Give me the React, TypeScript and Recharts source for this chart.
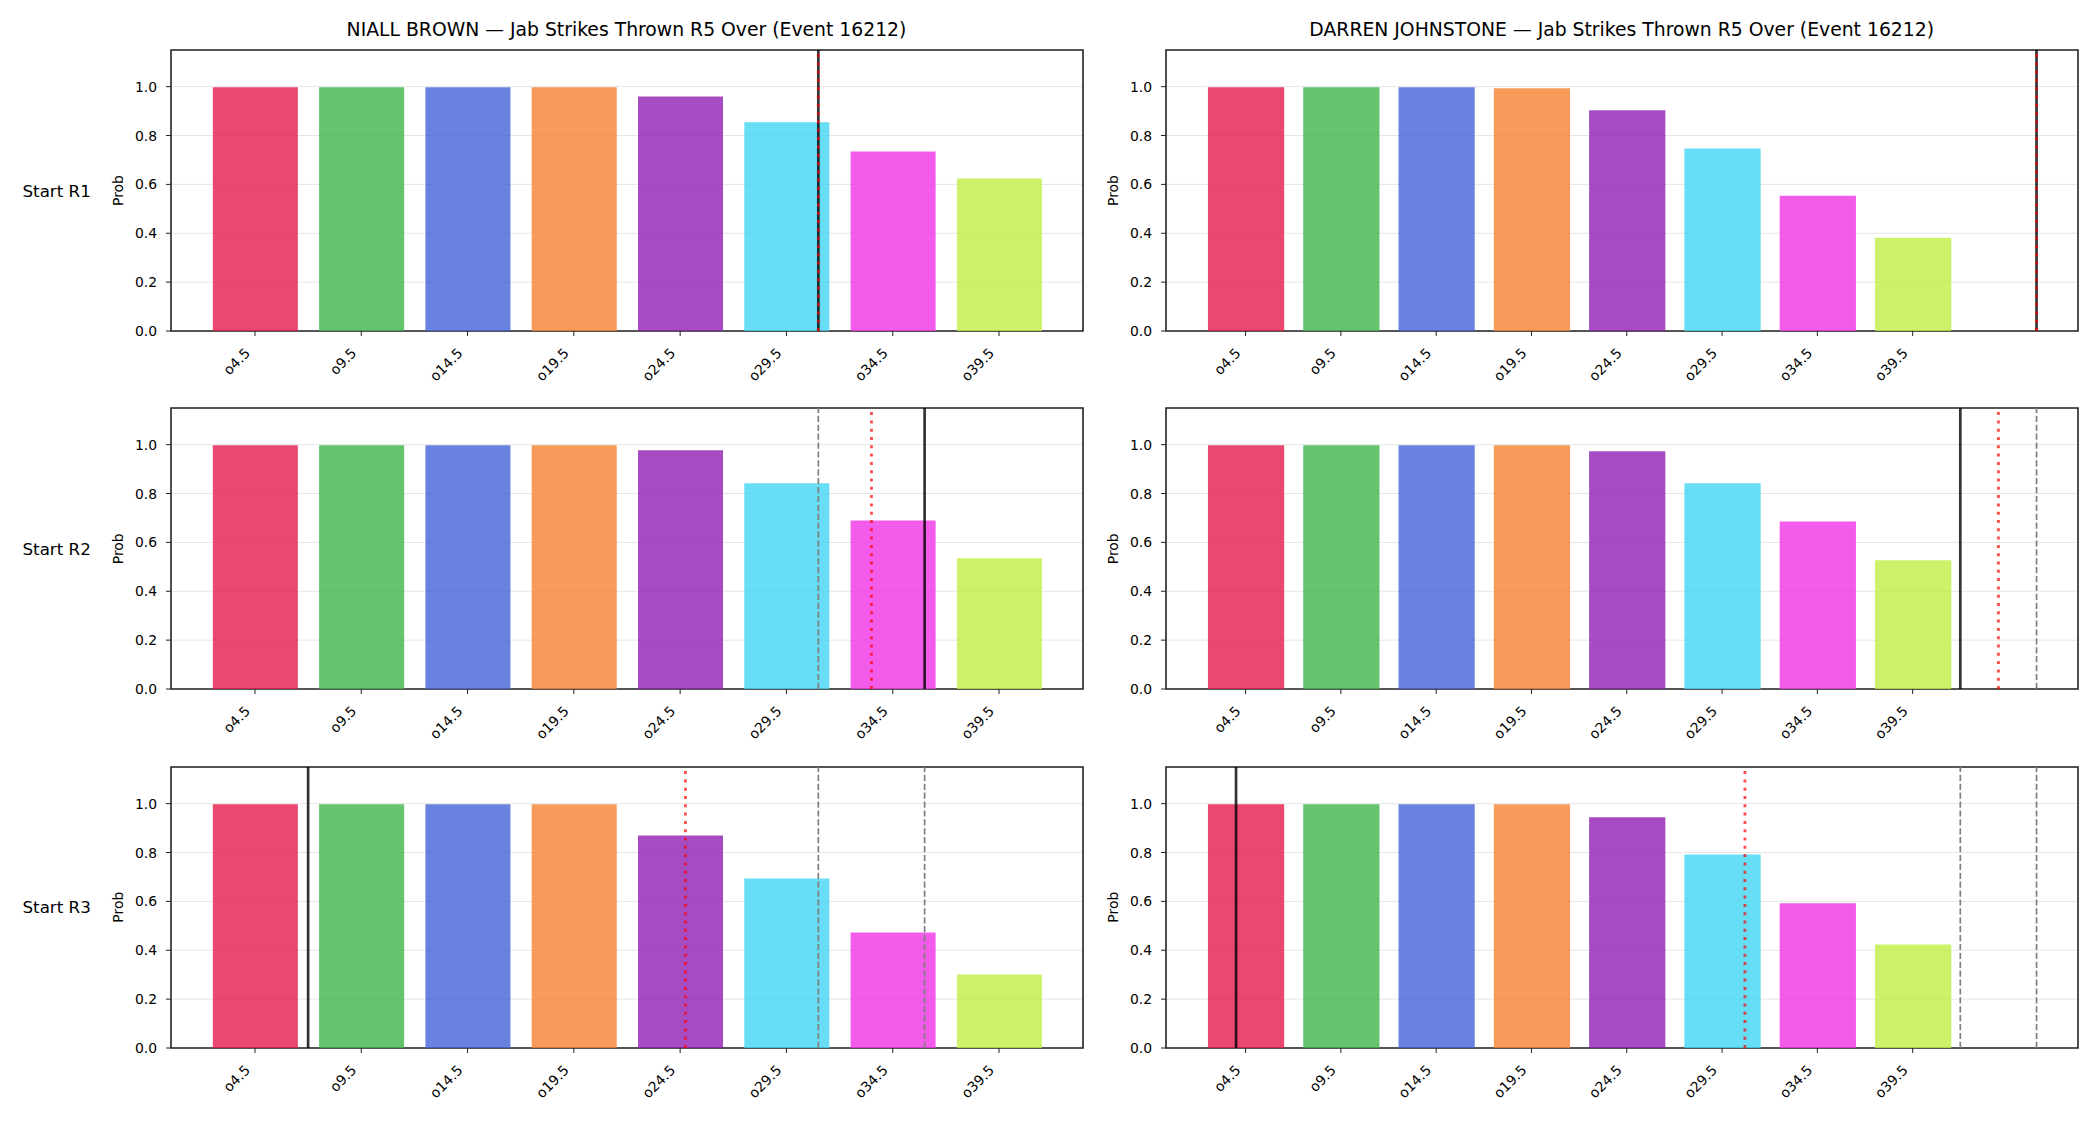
import React from 'react';
import {
  BarChart,
  Bar,
  XAxis,
  YAxis,
  CartesianGrid,
  ReferenceLine,
  ReferenceArea,
  Cell,
} from 'recharts';

// Over lines (categories) and the strike count each one stands for
const categories = ['o4.5', 'o9.5', 'o14.5', 'o19.5', 'o24.5', 'o29.5', 'o34.5', 'o39.5'];
const thresholds = [4.5, 9.5, 14.5, 19.5, 24.5, 29.5, 34.5, 39.5];
const barColors = ['#e6194b', '#3cb44b', '#4363d8', '#f58231', '#911eb4', '#42d4f4', '#f032e6', '#bfef45'];

const rounds = ['Start R1', 'Start R2', 'Start R3'];
const fighters = ['NIALL BROWN', 'DARREN JOHNSTONE'];
const market = 'Jab Strikes Thrown R5 Over';
const eventId = 16212;

// Over probabilities, one array per fighter per starting round
const brownR1 = [0.998, 0.998, 0.998, 0.998, 0.96, 0.854, 0.735, 0.624];
const brownR2 = [0.998, 0.998, 0.998, 0.998, 0.977, 0.842, 0.69, 0.535];
const brownR3 = [0.998, 0.998, 0.998, 0.998, 0.87, 0.694, 0.473, 0.301];
const johnstoneR1 = [0.998, 0.998, 0.998, 0.993, 0.903, 0.747, 0.554, 0.382];
const johnstoneR2 = [0.998, 0.998, 0.998, 0.998, 0.973, 0.842, 0.686, 0.527];
const johnstoneR3 = [0.998, 0.998, 0.998, 0.998, 0.944, 0.792, 0.592, 0.424];

// Marker strike counts per round: solid = count at that start, dotted = projection.
// Earlier rounds' solid markers are repeated as grey dashed lines.
const brownSolid = [31, 36, 7];
const brownDotted = [31, 33.5, 24.75];
const johnstoneSolid = [46, 42, 4];
const johnstoneDotted = [46, 44, 30.7];

const panels = [
  { name: fighters[0], probs: [brownR1, brownR2, brownR3], solid: brownSolid, dotted: brownDotted },
  { name: fighters[1], probs: [johnstoneR1, johnstoneR2, johnstoneR3], solid: johnstoneSolid, dotted: johnstoneDotted },
];

const FONT = 'DejaVu Sans';
const PLOT_W = 912;
const PLOT_H = 281;
const COL_LEFT = [170.5, 1165.7];
const ROW_TOP = [50, 408.3, 766.7];
const Y_AXIS_W = 70;
const M_LEFT = 10;
const M_RIGHT = 5;
const M_TOP = 10;
const X_AXIS_H = 60;
const Y_MAX = 1.15;
const Y_TICKS = [0, 0.2, 0.4, 0.6, 0.8, 1.0];

// strike count -> position on the category axis
const toPos = (v: number) => (v - thresholds[0]) / (thresholds[1] - thresholds[0]);

const XTick = (props: any) => {
  const { x, y, payload } = props;
  const ax = x - 4;
  const ay = y + 16;
  return (
    <text
      x={ax}
      y={ay}
      transform={`rotate(-45, ${ax}, ${ay})`}
      textAnchor="end"
      fontSize={13.9}
      fontFamily={FONT}
      fill="#000"
    >
      {categories[payload.value]}
    </text>
  );
};

const YTick = (props: any) => {
  const { x, y, payload } = props;
  return (
    <text x={x} y={y + 5} textAnchor="end" fontSize={13.9} fontFamily={FONT} fill="#000">
      {Number(payload.value).toFixed(1)}
    </text>
  );
};

function Panel({ col, row }: { col: number; row: number }) {
  const p = panels[col];
  const probs = p.probs[row];
  const data = categories.map((c, i) => ({ x: i, p: probs[i], label: c }));

  // shared x range for the column: bars plus every marker, with a 5% margin
  const allPos = [...p.solid, ...p.dotted].map(toPos);
  const lo0 = Math.min(-0.4, ...allPos);
  const hi0 = Math.max(categories.length - 1 + 0.4, ...allPos);
  const pad = 0.05 * (hi0 - lo0);
  const lo = lo0 - pad;
  const hi = hi0 + pad;
  const barPx = (0.8 * PLOT_W) / (hi - lo);

  const greys = p.solid.slice(0, row);
  const width = M_LEFT + Y_AXIS_W + PLOT_W + M_RIGHT;
  const height = M_TOP + PLOT_H + X_AXIS_H;

  return (
    <div
      style={{
        position: 'absolute',
        left: COL_LEFT[col] - Y_AXIS_W - M_LEFT,
        top: ROW_TOP[row] - M_TOP,
        width,
        height,
      }}
    >
      <BarChart
        width={width}
        height={height}
        data={data}
        margin={{ top: M_TOP, right: M_RIGHT, bottom: 0, left: M_LEFT }}
      >
        <CartesianGrid vertical={false} stroke="#e6e6e6" strokeWidth={1} />
        <XAxis
          dataKey="x"
          type="number"
          domain={[lo, hi]}
          allowDataOverflow
          ticks={categories.map((_, i) => i)}
          interval={0}
          height={X_AXIS_H}
          axisLine={false}
          tickLine={{ stroke: '#222', strokeWidth: 1 }}
          tickSize={5}
          tickMargin={2}
          tick={<XTick />}
        />
        <YAxis
          type="number"
          domain={[0, Y_MAX]}
          allowDataOverflow
          ticks={Y_TICKS}
          width={Y_AXIS_W}
          axisLine={false}
          tickLine={{ stroke: '#222', strokeWidth: 1 }}
          tickSize={5}
          tickMargin={9}
          tick={<YTick />}
        />
        <Bar dataKey="p" isAnimationActive={false} barSize={barPx}>
          {data.map((d, i) => (
            <Cell key={d.label} fill={barColors[i]} fillOpacity={0.8} />
          ))}
        </Bar>
        {greys.map((v, i) => (
          <ReferenceLine
            key={`g${i}`}
            x={toPos(v)}
            stroke="#7f7f7f"
            strokeWidth={1.7}
            strokeDasharray="6.2 2.7"
            ifOverflow="visible"
          />
        ))}
        <ReferenceLine x={toPos(p.solid[row])} stroke="#000" strokeOpacity={0.8} strokeWidth={2.7} ifOverflow="visible" />
        <ReferenceLine
          x={toPos(p.dotted[row])}
          stroke="#ff0000"
          strokeOpacity={0.7}
          strokeWidth={2.8}
          strokeDasharray="3 5.3"
          ifOverflow="visible"
        />
        <ReferenceArea
          x1={lo}
          x2={hi}
          y1={0}
          y2={Y_MAX}
          fill="none"
          stroke="#222"
          strokeWidth={1.6}
          ifOverflow="visible"
        />
      </BarChart>
    </div>
  );
}

export default function App() {
  return (
    <div
      style={{
        position: 'absolute',
        left: 0,
        top: 0,
        width: 2100,
        height: 1125,
        background: '#fff',
        overflow: 'hidden',
      }}
    >
      {[0, 1].map((col) => [0, 1, 2].map((row) => <Panel key={`${col}-${row}`} col={col} row={row} />))}
      <svg
        width={2100}
        height={1125}
        style={{ position: 'absolute', left: 0, top: 0, pointerEvents: 'none' }}
        fontFamily={FONT}
      >
        {fighters.map((f, col) => (
          <text key={f} x={COL_LEFT[col] + PLOT_W / 2} y={36} textAnchor="middle" fontSize={18.8} fill="#000">
            {`${f} — ${market} (Event ${eventId})`}
          </text>
        ))}
        {rounds.map((r, row) => (
          <text key={r} x={22.5} y={ROW_TOP[row] + PLOT_H / 2 + 6.1} fontSize={16.7} fill="#000">
            {r}
          </text>
        ))}
        {[0, 1].map((col) =>
          [0, 1, 2].map((row) => {
            const cx = COL_LEFT[col] - 47.5;
            const cy = ROW_TOP[row] + PLOT_H / 2;
            return (
              <text
                key={`prob-${col}-${row}`}
                x={cx}
                y={cy}
                transform={`rotate(-90, ${cx}, ${cy})`}
                textAnchor="middle"
                fontSize={13.9}
                fill="#000"
              >
                Prob
              </text>
            );
          })
        )}
      </svg>
    </div>
  );
}
